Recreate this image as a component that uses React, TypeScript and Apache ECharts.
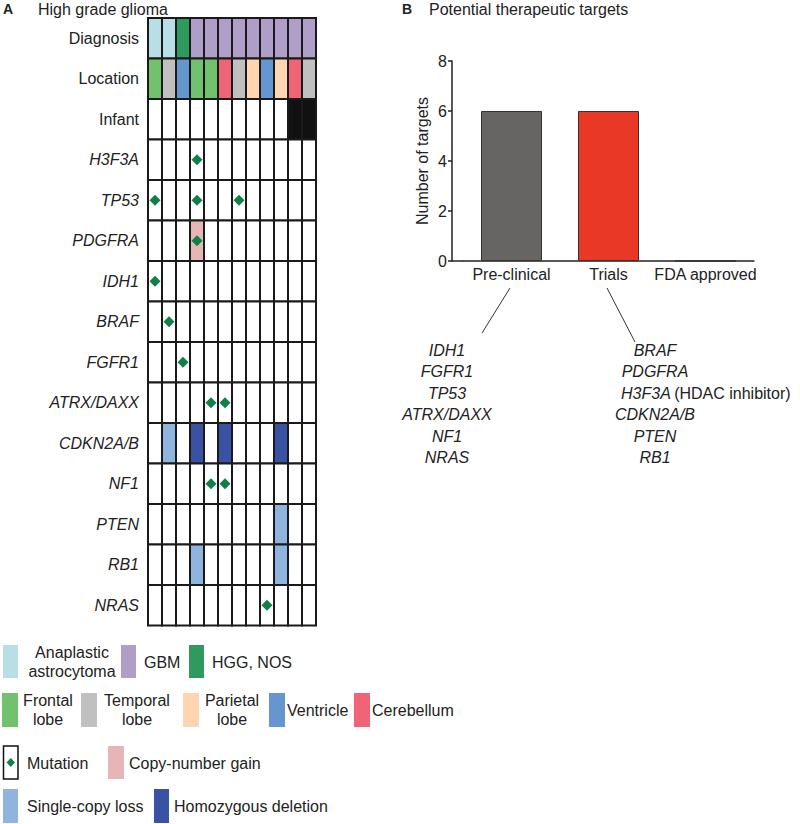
import React, { useEffect, useRef } from 'react';
import * as echarts from 'echarts';

// ---------------- DATA ----------------
const patients = ['P1', 'P2', 'P3', 'P4', 'P5', 'P6', 'P7', 'P8', 'P9', 'P10', 'P11', 'P12'];
const clinicalRows = ['Diagnosis', 'Location', 'Infant'];
const geneRows = ['H3F3A', 'TP53', 'PDGFRA', 'IDH1', 'BRAF', 'FGFR1', 'ATRX/DAXX', 'CDKN2A/B', 'NF1', 'PTEN', 'RB1', 'NRAS'];
const diagnosis = ['AA', 'AA', 'HGG', 'GBM', 'GBM', 'GBM', 'GBM', 'GBM', 'GBM', 'GBM', 'GBM', 'GBM'];
const location = ['Frontal', 'Temporal', 'Ventricle', 'Frontal', 'Frontal', 'Cerebellum', 'Temporal', 'Parietal', 'Ventricle', 'Parietal', 'Cerebellum', 'Temporal'];
const infant = [0, 0, 0, 0, 0, 0, 0, 0, 0, 0, 1, 1];
// M = mutation, G = copy-number gain, GM = gain + mutation, L = single-copy loss, D = homozygous deletion
const alterations: string[][] = [
  ['', '', '', 'M', '', '', '', '', '', '', '', ''], // H3F3A
  ['M', '', '', 'M', '', '', 'M', '', '', '', '', ''], // TP53
  ['', '', '', 'GM', '', '', '', '', '', '', '', ''], // PDGFRA
  ['M', '', '', '', '', '', '', '', '', '', '', ''], // IDH1
  ['', 'M', '', '', '', '', '', '', '', '', '', ''], // BRAF
  ['', '', 'M', '', '', '', '', '', '', '', '', ''], // FGFR1
  ['', '', '', '', 'M', 'M', '', '', '', '', '', ''], // ATRX/DAXX
  ['', 'L', '', 'D', '', 'D', '', '', '', 'D', '', ''], // CDKN2A/B
  ['', '', '', '', 'M', 'M', '', '', '', '', '', ''], // NF1
  ['', '', '', '', '', '', '', '', '', 'L', '', ''], // PTEN
  ['', '', '', 'L', '', '', '', '', '', 'L', '', ''], // RB1
  ['', '', '', '', '', '', '', '', 'M', '', '', ''], // NRAS
];

const stages = ['Pre-clinical', 'Trials', 'FDA approved'];
const targetCounts = [6, 6, 0];
const preclinicalTargets = ['IDH1', 'FGFR1', 'TP53', 'ATRX/DAXX', 'NF1', 'NRAS'];
const trialTargets = ['BRAF', 'PDGFRA', 'H3F3A', 'CDKN2A/B', 'PTEN', 'RB1'];
const trialNotes = ['', '', '(HDAC inhibitor)', '', '', ''];

const diagnosisLegend = ['Anaplastic\nastrocytoma', 'GBM', 'HGG, NOS'];
const locationLegend = ['Frontal\nlobe', 'Temporal\nlobe', 'Parietal\nlobe', 'Ventricle', 'Cerebellum'];
const alterationLegend = ['Mutation', 'Copy-number gain', 'Single-copy loss', 'Homozygous deletion'];

// ---------------- STYLE ----------------
const FONT = 'Liberation Sans, Arial, Helvetica, sans-serif';
const TXT = '#222';
const diagColors: Record<string, string> = { AA: '#b9dfe6', GBM: '#ae9ec8', HGG: '#2f9a5e' };
const diagLegendKeys = ['AA', 'GBM', 'HGG'];
const locColors: Record<string, string> = {
  Frontal: '#72c16c', Temporal: '#c0c0c0', Parietal: '#fdd5b1', Ventricle: '#6596cf', Cerebellum: '#ef6477',
};
const locLegendKeys = ['Frontal', 'Temporal', 'Parietal', 'Ventricle', 'Cerebellum'];
const altColors: Record<string, string> = { G: '#e6b6b6', GM: '#e6b6b6', L: '#8fb5df', D: '#3a52a3' };
const MUT_GREEN = '#0f8048';
const barColors = ['#676563', '#e93826', '#888'];

const App: React.FC = () => {
  const ref = useRef<HTMLDivElement>(null);

  useEffect(() => {
    if (!ref.current) return;
    const chart = echarts.init(ref.current, undefined, { renderer: 'svg' });

    const rowLabels = [...clinicalRows, ...geneRows];
    const cells: number[][] = [];
    const fills: string[] = [];
    const diamonds: number[][] = [];
    patients.forEach((_, c) => {
      cells.push([c, 0]); fills.push(diagColors[diagnosis[c]]);
      cells.push([c, 1]); fills.push(locColors[location[c]]);
      cells.push([c, 2]); fills.push(infant[c] ? '#111111' : '#ffffff');
      geneRows.forEach((_, g) => {
        const code = alterations[g][c];
        cells.push([c, g + 3]);
        fills.push(altColors[code] || '#ffffff');
        if (code.includes('M')) diamonds.push([c, g + 3]);
      });
    });

    const graphics: any[] = [];
    const t = (x: number, y: number, text: string, extra: any = {}) =>
      graphics.push({
        type: 'text', x, y,
        style: { text, fill: TXT, font: `16px ${FONT}`, textVerticalAlign: 'middle', ...extra },
      });
    const box = (x: number, y: number, w: number, h: number, fill: string, extra: any = {}) =>
      graphics.push({ type: 'rect', shape: { x, y, width: w, height: h }, style: { fill, ...extra } });

    // Panel titles
    t(3, 9, 'A', { font: `bold 14px ${FONT}` });
    t(38, 9, 'High grade glioma');
    t(402, 9, 'B', { font: `bold 14px ${FONT}` });
    t(429, 9, 'Potential therapeutic targets');

    // Connector lines
    graphics.push({ type: 'line', shape: { x1: 510, y1: 288, x2: 482, y2: 333 }, style: { stroke: '#333', lineWidth: 1 } });
    graphics.push({ type: 'line', shape: { x1: 607, y1: 288, x2: 635, y2: 342 }, style: { stroke: '#333', lineWidth: 1 } });
    // x-axis line continuation to the y-axis
    graphics.push({ type: 'line', shape: { x1: 452, y1: 261, x2: 463, y2: 261 }, style: { stroke: '#222', lineWidth: 1.5 } });

    // Target gene lists
    preclinicalTargets.forEach((g, i) => {
      t(447, 350 + i * 21.5, g, { font: `italic 16px ${FONT}`, textAlign: 'center' });
    });
    trialTargets.forEach((g, i) => {
      const y = 350 + i * 21.5;
      if (trialNotes[i]) {
        graphics.push({
          type: 'text', x: 621, y,
          style: {
            text: `{i|${g}} {n|${trialNotes[i]}}`, textVerticalAlign: 'middle', fill: TXT,
            rich: {
              i: { fontStyle: 'italic', fontSize: 16, fontFamily: FONT, fill: TXT },
              n: { fontSize: 16, fontFamily: FONT, fill: TXT },
            },
          },
        });
      } else {
        t(655, y, g, { font: `italic 16px ${FONT}`, textAlign: 'center' });
      }
    });

    // Legend row 1: diagnosis
    const r1x = [3, 121, 189];
    diagnosisLegend.forEach((lab, i) => {
      box(r1x[i], 645, 15, 33, diagColors[diagLegendKeys[i]]);
      if (i === 0) t(72, 662, lab, { textAlign: 'center', lineHeight: 19 });
      else t(r1x[i] + 23, 662, lab);
    });
    // Legend row 2: location
    const r2x = [2, 81, 183, 269, 354];
    locationLegend.forEach((lab, i) => {
      box(r2x[i], 693, 16, 34, locColors[locLegendKeys[i]]);
      if (lab.includes('\n')) {
        const cx = [48, 137, 232][i];
        t(cx, 710, lab, { textAlign: 'center', lineHeight: 19 });
      } else {
        t(r2x[i] + 18, 710, lab);
      }
    });
    // Legend row 3/4: alterations
    box(3.5, 746, 14.5, 33, '#ffffff', { stroke: '#111', lineWidth: 1.5 });
    graphics.push({
      type: 'polygon',
      shape: { points: [[10.75, 758], [15, 762.5], [10.75, 767], [6.5, 762.5]] },
      style: { fill: MUT_GREEN },
    });
    t(27, 763, alterationLegend[0]);
    box(108, 746, 16, 33, altColors.G);
    t(129, 763, alterationLegend[1]);
    box(3, 789, 15, 34, altColors.L);
    t(27, 806, alterationLegend[2]);
    box(154, 789, 15, 34, altColors.D);
    t(174, 806, alterationLegend[3]);

    const italicSet = new Set(geneRows);

    chart.setOption({
      animation: false,
      textStyle: { fontFamily: FONT },
      grid: [
        { left: 148, right: 484, top: 18, bottom: 198.5 },
        { left: 463, right: 46, top: 61, bottom: 563 },
      ],
      xAxis: [
        { type: 'category', gridIndex: 0, data: patients, show: false },
        {
          type: 'category', gridIndex: 1, data: stages,
          axisLine: { lineStyle: { color: '#222', width: 1.5 } },
          axisTick: { show: false },
          axisLabel: { interval: 0, fontSize: 16, color: TXT, margin: 5, fontFamily: FONT },
        },
      ],
      yAxis: [
        {
          type: 'category', gridIndex: 0, data: rowLabels, inverse: true,
          axisLine: { show: false }, axisTick: { show: false },
          axisLabel: {
            interval: 0,
            margin: 9,
            formatter: (v: string) => (italicSet.has(v) ? `{i|${v}}` : `{n|${v}}`),
            rich: {
              i: { fontStyle: 'italic', fontSize: 16, color: TXT, fontFamily: FONT },
              n: { fontSize: 16, color: TXT, fontFamily: FONT },
            },
          },
        },
        {
          type: 'value', gridIndex: 1, min: 0, max: 8, interval: 2, offset: 11,
          axisLine: { show: true, lineStyle: { color: '#222', width: 1.5 } },
          axisTick: { show: true, length: 4, lineStyle: { color: '#222', width: 1.5 } },
          splitLine: { show: false },
          axisLabel: { fontSize: 16, color: TXT, margin: 5, fontFamily: FONT },
          name: 'Number of targets', nameLocation: 'middle', nameGap: 22,
          nameTextStyle: { fontSize: 16, color: TXT, fontFamily: FONT },
        },
      ],
      series: [
        {
          type: 'custom', xAxisIndex: 0, yAxisIndex: 0, data: cells,
          renderItem: (params: any, api: any) => {
            const p = api.coord([api.value(0), api.value(1)]);
            const s = api.size([1, 1]);
            return {
              type: 'rect',
              shape: { x: p[0] - s[0] / 2, y: p[1] - s[1] / 2, width: s[0], height: s[1] },
              style: { fill: fills[params.dataIndex], stroke: '#1a1a1a', lineWidth: 2 },
            };
          },
        },
        {
          type: 'scatter', xAxisIndex: 0, yAxisIndex: 0, data: diamonds,
          symbol: 'diamond', symbolSize: [11, 11], itemStyle: { color: MUT_GREEN, opacity: 1 }, z: 5,
        },
        {
          type: 'bar', xAxisIndex: 1, yAxisIndex: 1, barWidth: 61,
          data: targetCounts.map((v, i) => ({ value: v, itemStyle: { color: barColors[i] } })),
          itemStyle: { borderColor: '#333', borderWidth: 1 },
        },
      ],
      graphic: graphics,
    });

    return () => chart.dispose();
  }, []);

  return <div ref={ref} style={{ position: 'fixed', left: 0, top: 0, width: 800, height: 824, background: '#fff' }} />;
};

export default App;
